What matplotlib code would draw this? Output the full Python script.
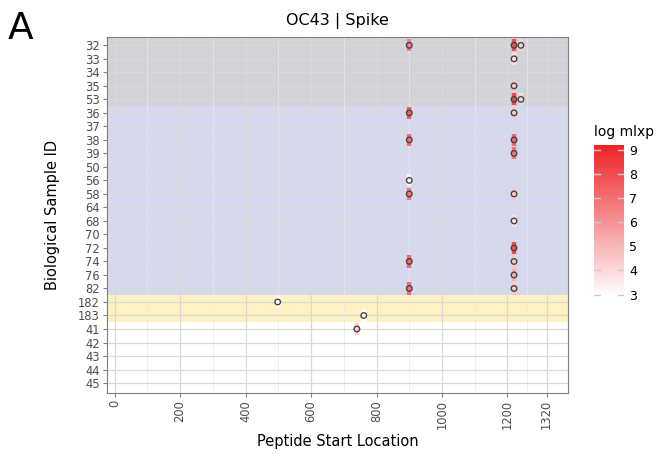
import numpy as np
import matplotlib.pyplot as plt
from matplotlib.colors import LinearSegmentedColormap, Normalize

# sample IDs, top to bottom
samples = ['32', '33', '34', '35', '53', '36', '37', '38', '39', '50', '56', '58',
           '64', '68', '70', '72', '74', '76', '82', '182', '183', '41', '42', '43', '44', '45']

# peptide hits: sample, start position, log mlxp
hit_sample = ['32', '32', '32', '33', '35', '53', '53', '36', '36', '38', '38', '39',
              '56', '58', '58', '68', '72', '74', '74', '76', '82', '82', '182', '183', '41']
hit_start = [900, 1220, 1241, 1220, 1220, 1220, 1241, 900, 1220, 900, 1220, 1220,
             900, 900, 1220, 1220, 1220, 900, 1220, 1220, 900, 1220, 498, 761, 740]
hit_mlxp = [6.5, 8.0, 4.2, 3.8, 4.5, 8.2, 4.0, 7.5, 4.5, 7.0, 7.2, 6.8,
            3.3, 6.8, 4.5, 3.8, 8.0, 7.2, 4.5, 5.2, 7.0, 4.5, 3.0, 3.0, 4.2]

x_ticks = [0, 200, 400, 600, 800, 1000, 1200, 1320]
x_minor = [100, 300, 500, 700, 900, 1100, 1260]

ypos = {s: i for i, s in enumerate(samples)}
yy = np.array([ypos[s] for s in hit_sample])
xx = np.array(hit_start)
cc = np.array(hit_mlxp)

cmap = LinearSegmentedColormap.from_list('wr', ['#ffffff', '#ee2227'])
norm = Normalize(vmin=2.9, vmax=9.2)

fig = plt.figure(figsize=(6.59, 4.54), dpi=100)
ax = fig.add_axes([0.162, 0.134, 0.700, 0.784])

# group bands
ax.axhspan(-1, 4.5, color='#d2d2d9', zorder=0.2, lw=0)
ax.axhspan(4.5, 18.5, color='#d6d9ee', zorder=0.2, lw=0)
ax.axhspan(18.5, 20.5, color='#fff2c2', zorder=0.2, lw=0)

# grid
for v in x_ticks:
    ax.axvline(v, color='#d9d9d9', lw=0.9, zorder=0.5)
for v in x_minor:
    ax.axvline(v, color='#ebebeb', lw=0.5, zorder=0.5)
for i in range(len(samples)):
    ax.axhline(i, color='#d9d9d9', lw=0.9, zorder=0.5)

# colored bars + open circles
ax.vlines(xx, yy - 0.45, yy + 0.45, colors=cmap(norm(cc)), lw=3.2, zorder=2)
ax.scatter(xx, yy, s=16, facecolors='none', edgecolors='#444444', linewidths=1.0, zorder=3)

ax.set_xlim(-24, 1385)
ax.set_ylim(25.75, -0.6)
ax.set_yticks(range(len(samples)))
ax.set_yticklabels(samples)
ax.set_xticks(x_ticks)
ax.set_xticklabels([str(v) for v in x_ticks], rotation=90)
ax.tick_params(colors='#7f7f7f', labelcolor='#4d4d4d', labelsize=8.3, length=3, pad=2)
for sp in ax.spines.values():
    sp.set_color('#7f7f7f')

ax.set_xlabel('Peptide Start Location', fontsize=10.5, labelpad=3)
ax.set_ylabel('Biological Sample ID', fontsize=10.5, labelpad=13)
ax.set_title('OC43 | Spike', fontsize=11.5, pad=9)

fig.text(0.012, 0.975, 'A', fontsize=27, va='top', ha='left')

# colorbar
cax = fig.add_axes([0.901, 0.346, 0.046, 0.335])
sm = plt.cm.ScalarMappable(norm=norm, cmap=cmap)
cb = fig.colorbar(sm, cax=cax, ticks=[3, 4, 5, 6, 7, 8, 9])
cb.outline.set_visible(False)
cb.ax.tick_params(length=0, labelsize=9)
for t in [3, 4, 5, 6, 7, 8, 9]:
    cax.plot([0, 0.2], [t, t], color='#cccccc', lw=1, transform=cax.get_yaxis_transform())
    cax.plot([0.8, 1.0], [t, t], color='#cccccc', lw=1, transform=cax.get_yaxis_transform())
cax.set_title('log mlxp', fontsize=10, loc='left', pad=6)

fig.savefig('out.png', dpi=100)
